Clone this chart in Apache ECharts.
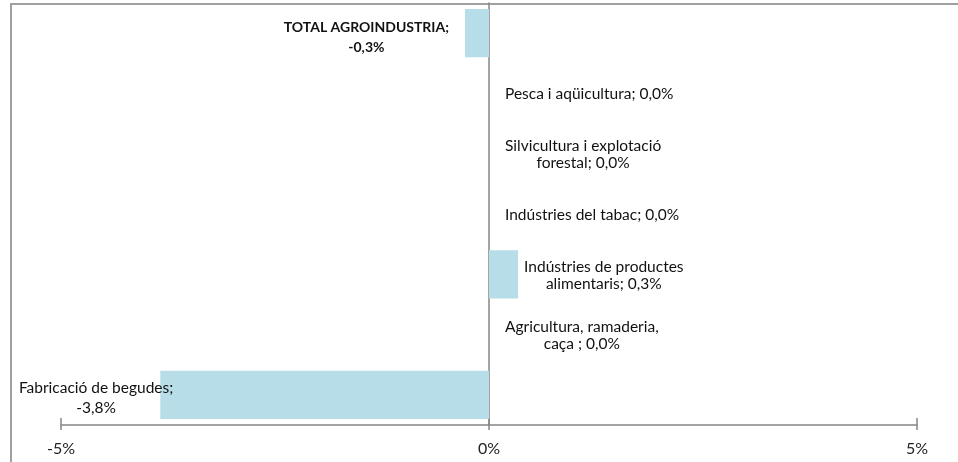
<!DOCTYPE html>
<html>
<head>
<meta charset="utf-8">
<script src="https://cdn.jsdelivr.net/npm/echarts@6/dist/echarts.min.js"></script>
<style>
  html, body { margin: 0; padding: 0; background: #fff; }
  #chart { width: 958px; height: 462px; }
</style>
</head>
<body>
<div id="chart"></div>
<script>
// categories, bottom to top (ECharts category y axis starts at the bottom)
var categories = [
    'Fabricació de begudes',
    'Agricultura, ramaderia,\ncaça ',
    'Indústries de productes\nalimentaris',
    'Indústries del tabac',
    'Silvicultura i explotació\nforestal',
    'Pesca i aqüicultura',
    'TOTAL AGROINDUSTRIA'
];
var values = [-3.84, 0.0, 0.34, 0.0, 0.0, 0.0, -0.28];   // %
var breakAfterSemicolon = [true, false, false, false, false, false, true];
var xTicks = [-5, 0, 5];

function fmt(v) {
    return v.toFixed(1).replace('.', ',') + '%';
}

var seriesData = [];
for (var i = 0; i < values.length; i++) {
    var item = { value: values[i], label: {} };
    if (values[i] < 0) {
        item.label.position = 'left';
        item.label.distance = (i === 0) ? -13 : 16;
        item.label.offset = (i === 0) ? [0, 3] : [0, 4];
    } else {
        item.label.position = 'right';
        item.label.distance = values[i] > 0 ? 6 : 16;
        item.label.offset = [0, 1];
    }
    seriesData.push(item);
}

var myChart = echarts.init(document.getElementById('chart'));
myChart.setOption({
    animation: false,
    textStyle: { fontFamily: 'Lato' },
    graphic: [{
        type: 'rect',
        shape: { x: 11, y: 4, width: 960, height: 480 },
        style: { fill: 'none', stroke: '#a0a0a0', lineWidth: 2 },
        z: 0
    }],
    grid: { left: 61, right: 41, top: 3, bottom: 37 },
    xAxis: [{
        type: 'value',
        min: -5,
        max: 5,
        interval: 5,
        axisLine: { show: true, lineStyle: { color: '#868686', width: 1.5 } },
        axisTick: { show: true, inside: false, length: 5, lineStyle: { color: '#868686', width: 1.5 } },
        axisLabel: {
            margin: 16,
            fontSize: 16,
            color: '#222',
            formatter: function (v) { return xTicks.indexOf(v) >= 0 ? v + '%' : ''; }
        },
        splitLine: { show: false }
    }, {
        type: 'value',
        position: 'bottom',
        min: -5,
        max: 5,
        interval: 5,
        axisLine: { show: false },
        axisTick: { show: true, inside: true, length: 7, lineStyle: { color: '#868686', width: 1.5 } },
        axisLabel: { show: false },
        splitLine: { show: false }
    }],
    yAxis: {
        type: 'category',
        data: categories,
        axisLine: { show: true, onZero: true, lineStyle: { color: '#868686', width: 1.5 } },
        axisTick: { show: false },
        axisLabel: { show: false }
    },
    series: [{
        name: 'variació',
        type: 'bar',
        barWidth: '80%',
        data: seriesData,
        itemStyle: { color: '#b7dde8' },
        label: {
            show: true,
            formatter: function (p) {
                var sep = breakAfterSemicolon[p.dataIndex] ? ';\n' : '; ';
                var txt = p.name + sep + fmt(p.value);
                var style = p.dataIndex === values.length - 1 ? 'b' : (p.dataIndex === 0 ? 'w' : 'c');
                return txt.split('\n').map(function (s) {
                    return '{' + style + '|' + s + '}';
                }).join('\n');
            },
            rich: {
                c: { align: 'center', fontSize: 15.5, lineHeight: 17, color: '#111', fontFamily: 'Lato' },
                w: { align: 'center', fontSize: 15.5, lineHeight: 20, color: '#111', fontFamily: 'Lato' },
                b: { align: 'center', fontSize: 14, lineHeight: 20, color: '#111', fontWeight: 'bold', fontFamily: 'Lato' }
            }
        }
    }]
});
</script>
</body>
</html>
